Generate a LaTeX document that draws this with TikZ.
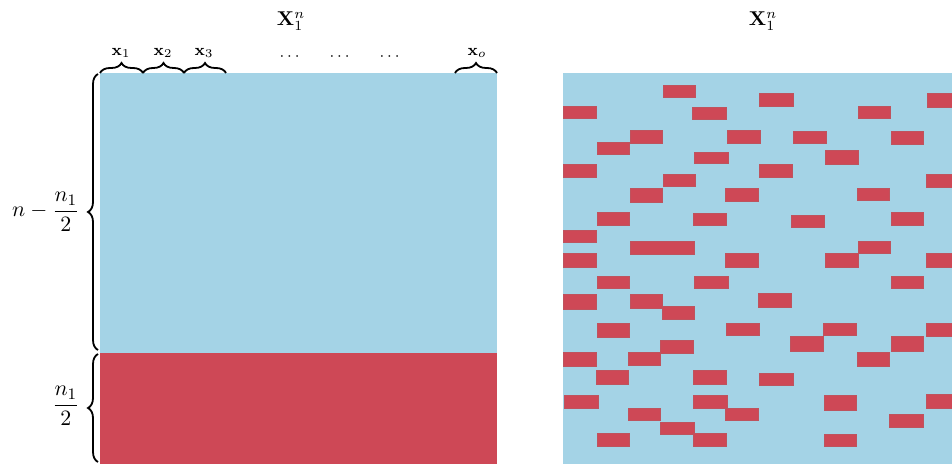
\documentclass[tikz,border=0pt]{standalone}
\usepackage{amsmath}
\usetikzlibrary{decorations.pathreplacing}
\definecolor{cellblue}{HTML}{A4D3E6}
\definecolor{cellred}{HTML}{CE4856}
\begin{document}
\begin{tikzpicture}[x=0.5pt,y=-0.5pt,
  bracestyle/.style={decorate,decoration={brace,amplitude=5pt},line width=0.9pt},
  collabel/.style={font=\footnotesize,inner sep=0pt},
  titlelabel/.style={font=\normalsize,inner sep=0pt},
  rowlabel/.style={font=\fontsize{11}{13}\selectfont,inner sep=0pt,anchor=east},
  redcell/.style={fill=cellred,draw=cellred!80!gray,line width=0.2pt}]
\useasboundingbox (0,0) rectangle (952,464);
% left panel
\fill[cellblue] (100,73) rectangle (497,353);
\fill[cellred] (100,353) rectangle (497,464);
% right panel
\fill[cellblue] (563,73) rectangle (952,464);
\foreach \a/\b/\c/\d in {
663/85/695/97, 759/93/793/106, 927/93/952/107, 563/106/596/118,
692/107/726/119, 858/106/890/118, 630/130/662/143, 727/130/760/143,
793/131/826/143, 891/131/923/144, 597/142/629/154, 694/152/728/163,
825/150/858/164, 563/164/596/177, 759/164/792/177, 663/174/695/186,
926/174/952/187, 630/188/662/202, 725/188/758/201, 857/188/889/200,
597/212/629/225, 693/213/726/225, 791/215/824/227, 891/212/923/225,
563/230/596/242, 630/241/694/254, 858/241/890/253, 563/253/596/267,
725/253/758/267, 825/253/858/267, 926/253/952/267, 597/276/629/288,
694/276/728/288, 891/276/923/288, 563/294/596/309, 630/294/662/308,
758/293/791/307, 662/306/694/319, 597/323/629/337, 726/323/759/335,
823/323/856/335, 926/323/952/336, 790/336/823/351, 891/336/923/351,
660/340/693/353, 563/352/596/366, 628/352/660/365, 857/352/889/366,
596/370/628/384, 693/370/726/384, 759/373/793/385, 564/395/598/408,
693/395/727/408, 824/395/856/410, 926/394/952/408, 628/408/660/420,
725/408/758/420, 889/414/923/427, 660/422/694/434, 597/433/629/446,
693/433/726/446, 824/434/856/446}
  \draw[redcell] (\a,\b) rectangle (\c,\d);
% titles
\node[titlelabel] (tl) at (291,21) {$\mathbf{X}_1^n$};
\node[titlelabel] (tr) at (763,21) {$\mathbf{X}_1^n$};
% top braces
\coordinate (c0) at (100,73);
\coordinate (c1) at (143,73);
\coordinate (c2) at (184,73);
\coordinate (c3) at (226,73);
\coordinate (co0) at (455,73);
\coordinate (co1) at (497,73);
\draw[bracestyle] (c0) -- (c1);
\draw[bracestyle] (c1) -- (c2);
\draw[bracestyle] (c2) -- (c3);
\draw[bracestyle] (co0) -- (co1);
\node[collabel] (lx1) at (121,53) {$\mathbf{x}_1$};
\node[collabel] (lx2) at (163,53) {$\mathbf{x}_2$};
\node[collabel] (lx3) at (204,53) {$\mathbf{x}_3$};
\node[collabel] (lxo) at (477,53) {$\mathbf{x}_o$};
\node[collabel] (d1) at (291,57) {$\cdots$};
\node[collabel] (d2) at (341,57) {$\cdots$};
\node[collabel] (d3) at (391,57) {$\cdots$};
% side braces
\coordinate (r0) at (98,74);
\coordinate (r1) at (98,350);
\coordinate (r2) at (98,354);
\coordinate (r3) at (98,462);
\draw[bracestyle] (r1) -- (r0);
\draw[bracestyle] (r3) -- (r2);
\node[rowlabel] (ln1) at (80,212) {$n-\dfrac{n_1}{2}$};
\node[rowlabel] (ln2) at (80,406) {$\dfrac{n_1}{2}$};
\end{tikzpicture}
\end{document}
